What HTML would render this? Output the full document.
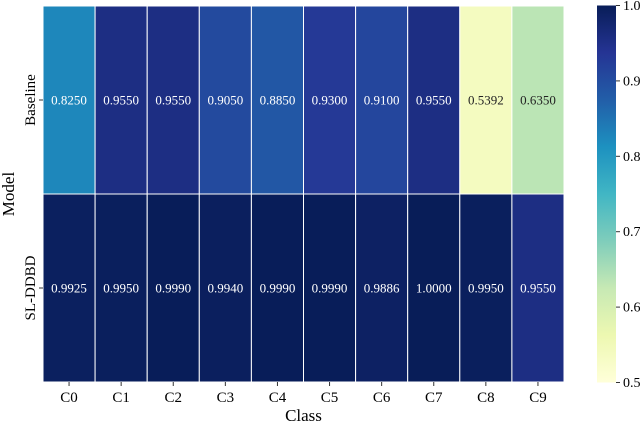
<!DOCTYPE html>
<html><head><meta charset="utf-8"><style>
body{margin:0;background:#fff;}
svg text{font-family:"Liberation Serif","Times New Roman",serif;}
</style></head><body>
<svg id="chart" width="640" height="421" viewBox="0 0 640 421" xmlns="http://www.w3.org/2000/svg" font-family="Liberation Serif, serif">
<defs><linearGradient id="cbg" x1="0" y1="1" x2="0" y2="0"></linearGradient></defs>
<g id="cells"></g>
<g id="axes"></g>
<rect x="597" y="5.5" width="19" height="377" fill="url(#cbg)"/>
<g id="cbticks"></g>
<text x="303.5" y="421" font-size="17" text-anchor="middle">Class</text>
<text transform="translate(14,194) rotate(-90)" font-size="17" text-anchor="middle">Model</text>
</svg>
<script>
const categories=["C0","C1","C2","C3","C4","C5","C6","C7","C8","C9"];
const models=["Baseline","SL-DDBD"];
const baselineValues=[0.8250,0.9550,0.9550,0.9050,0.8850,0.9300,0.9100,0.9550,0.5392,0.6350];
const slddbdValues=[0.9925,0.9950,0.9990,0.9940,0.9990,0.9990,0.9886,1.0000,0.9950,0.9550];
const cbTicks=[0.5,0.6,0.7,0.8,0.9,1.0];
const vmin=0.5,vmax=1.0;
const stops=["#ffffd9","#edf8b1","#c7e9b4","#7fcdbb","#41b6c4","#1d91c0","#225ea8","#253494","#081d58"];
function hex(h){return [1,3,5].map(i=>parseInt(h.substr(i,2),16));}
function cmap(v){let t=Math.max(0,Math.min(1,(v-vmin)/(vmax-vmin)))*(stops.length-1);
let i=Math.min(Math.floor(t),stops.length-2),f=t-i;const a=hex(stops[i]),b=hex(stops[i+1]);
return "rgb("+a.map((x,k)=>Math.round(x+(b[k]-x)*f)).join(",")+")";}
const NS="http://www.w3.org/2000/svg";
const L=43,R=564,T=6,B=382;
const cw=(R-L)/categories.length,rh=(B-T)/models.length;
const xPos=i=>L+i*cw, yPos=j=>T+j*rh;
const cbY=v=>382.5-(v-vmin)/(vmax-vmin)*377;
function mk(tag,attrs,parent){const e=document.createElementNS(NS,tag);for(const k in attrs)e.setAttribute(k,attrs[k]);parent.appendChild(e);return e;}
const cells=document.getElementById('cells'),axes=document.getElementById('axes');
const series=[baselineValues,slddbdValues];
series.forEach((vals,j)=>{vals.forEach((v,i)=>{
 const r=mk('rect',{x:xPos(i),y:yPos(j),width:cw,height:rh,fill:cmap(v),stroke:"#fff","stroke-width":1},cells);
 
 
 const t=mk('text',{x:xPos(i)+cw/2,y:yPos(j)+rh/2+4.5,"font-size":13,"text-anchor":"middle",fill:v<0.75?"#222":"#fff"},cells);
 t.textContent=v.toFixed(4);
 
 
});});
categories.forEach((c,i)=>{const x=xPos(i)+cw/2;
 const tk=mk('line',{x1:x,x2:x,y1:B,y2:B+4,stroke:"#333"},axes);
 
 const t=mk('text',{x:x,y:B+20,"font-size":15,"text-anchor":"middle"},axes);t.textContent=c;
 });
models.forEach((m,j)=>{const y=yPos(j)+rh/2;
 const tk=mk('line',{x1:L-4,x2:L,y1:y,y2:y,stroke:"#333"},axes);
 
 const t=mk('text',{transform:`translate(${L-8},${y}) rotate(-90)`,"font-size":15,"text-anchor":"middle"},axes);t.textContent=m;
 });
const g=document.getElementById('cbg');
stops.forEach((s,i)=>mk('stop',{offset:i/(stops.length-1),"stop-color":s},g));
const cbt=document.getElementById('cbticks');
cbTicks.forEach(v=>{const y=cbY(v);
 const tk=mk('line',{x1:616,x2:620,y1:y,y2:y,stroke:"#333"},cbt);
 
 const t=mk('text',{x:623,y:y+4.5,"font-size":14},cbt);t.textContent=v.toFixed(1);
 });
</script>
</body></html>
